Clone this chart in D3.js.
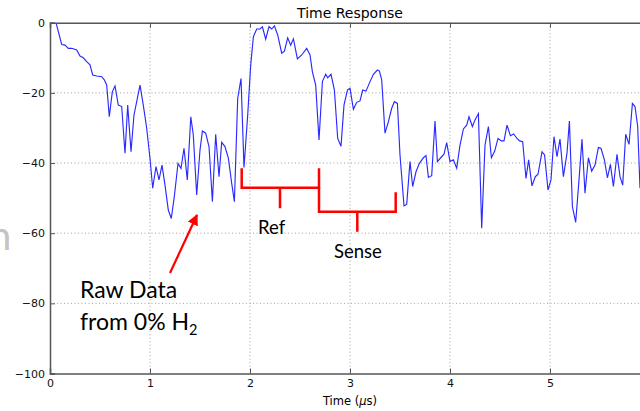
<!DOCTYPE html>
<html>
<head>
<meta charset="utf-8">
<script src="https://cdnjs.cloudflare.com/ajax/libs/d3/7.8.5/d3.min.js"></script>
<style>
  body { margin: 0; background: #fff; }
  svg { display: block; }
  .tick text { font-family: "DejaVu Sans", sans-serif; font-size: 11px; fill: #111; }
  .note { font-family: Lato, "Open Sans", sans-serif; fill: #000; }
</style>
</head>
<body>
<svg width="640" height="411"></svg>
<script>
// time (us) and response
var time = [0.06, 0.117, 0.15, 0.183, 0.217, 0.267, 0.30, 0.333, 0.367, 0.40,
  0.427, 0.467, 0.517, 0.543, 0.567, 0.593, 0.623, 0.65, 0.683, 0.717,
  0.75, 0.777, 0.81, 0.84, 0.867, 0.90, 0.933, 0.967, 1.0, 1.027,
  1.06, 1.09, 1.12, 1.15, 1.183, 1.213, 1.243, 1.28, 1.31, 1.34,
  1.373, 1.408, 1.433, 1.467, 1.50, 1.524, 1.557, 1.59, 1.624, 1.657,
  1.69, 1.717, 1.75, 1.784, 1.817, 1.844, 1.877, 1.91, 1.94, 1.977,
  2.007, 2.034, 2.067, 2.10, 2.124, 2.157, 2.19, 2.217, 2.244, 2.277,
  2.317, 2.344, 2.377, 2.407, 2.434, 2.474, 2.517, 2.567, 2.60, 2.624,
  2.657, 2.69, 2.724, 2.757, 2.777, 2.81, 2.844, 2.877, 2.91, 2.94,
  2.974, 3.0, 3.034, 3.067, 3.10, 3.127, 3.16, 3.20, 3.234, 3.274,
  3.294, 3.317, 3.35, 3.384, 3.417, 3.444, 3.474, 3.50, 3.54, 3.567,
  3.60, 3.627, 3.66, 3.694, 3.734, 3.76, 3.784, 3.817, 3.85, 3.874,
  3.907, 3.94, 3.967, 4.0, 4.034, 4.067, 4.10, 4.134, 4.167, 4.19,
  4.224, 4.25, 4.284, 4.317, 4.35, 4.384, 4.414, 4.447, 4.48, 4.514,
  4.54, 4.57, 4.604, 4.637, 4.67, 4.697, 4.727, 4.76, 4.786, 4.82,
  4.853, 4.88, 4.92, 4.946, 4.98, 5.01, 5.04, 5.07, 5.10, 5.134,
  5.17, 5.194, 5.224, 5.257, 5.29, 5.32, 5.35, 5.384, 5.417, 5.45,
  5.484, 5.51, 5.544, 5.574, 5.604, 5.634, 5.67, 5.70, 5.727, 5.757,
  5.79, 5.824, 5.85, 5.877, 5.90];

var response = [0, -6.2, -6.4, -7.3, -7.3, -7.8, -9.5, -10, -11.1, -12,
  -14.9, -15.2, -15.4, -16.3, -17.8, -26.8, -19.7, -18, -23.5, -23.9,
  -37.2, -23.5, -36.8, -26.3, -22.5, -17.8, -23.5, -30.1, -38.7, -47.2,
  -41, -44.8, -40.6, -46.3, -53.4, -55.8, -49.6, -40.1, -41.5, -35.8,
  -44.8, -26.8, -32, -49.1, -36.3, -30.9, -31.5, -35.3, -51.0, -31.8,
  -43.9, -34.1, -35.3, -38.7, -45.8, -51.0, -21.6, -15.9, -41.3, -26.3,
  -12.1, -4.0, -1.8, -1.8, -1.2, -4.7, -1.1, -1.8, -0.9, -3.5,
  -8.7, -8.1, -4.3, -6.4, -4.6, -10.3, -9.2, -7.3, -9.2, -14,
  -17.8, -33.4, -16.8, -14.7, -15.7, -14.7, -19.2, -33, -35.2, -23.5,
  -19.2, -18.7, -24.7, -22.7, -22.3, -19.2, -19.5, -16.8, -14.7, -13.5,
  -13.8, -16.3, -31.5, -28.2, -24.4, -22.5, -23, -37.7, -52.2, -51.8,
  -39.6, -46.7, -42.5, -40.1, -38.5, -37.9, -44.1, -43.6, -28, -39.6,
  -38.5, -37.5, -34.2, -39.6, -39.1, -41.5, -34.9, -30.3, -29.2, -26.8,
  -29.6, -27.7, -25.9, -58.6, -34.9, -29.6, -38.5, -36.6, -33, -33.7,
  -33.7, -29.2, -32.2, -31.7, -33, -33.7, -33.9, -44.4, -39.1, -46.5,
  -43.9, -43.2, -36.8, -37.7, -47.7, -44.8, -32.5, -38.2, -33.2, -43.9,
  -37.2, -28, -52.4, -56.9, -44.8, -33.2, -48.6, -38.5, -42.3, -40.6,
  -35.6, -35.8, -39.1, -44.2, -40.4, -46.7, -37.5, -43.9, -46.3, -31.8,
  -34.7, -23, -23.9, -29.6, -47.2];

var xTicks = [0, 1, 2, 3, 4, 5];
var yTicks = [0, -20, -40, -60, -80, -100];

// note: "top" is taken by window.top, so use other names
var svg = d3.select("svg"),
    pLeft = 50, pRight = 650, pTop = 22.7, pBottom = 373.5;

var x = d3.scaleLinear().domain([0, 6]).range([pLeft, pRight]);
var y = d3.scaleLinear().domain([-100, 0]).range([pBottom, pTop]);

var fmt = function (d) { return d < 0 ? "\u2212" + Math.abs(d) : d; };

// dotted grid
var grid = svg.append("g");
grid.selectAll(".gx").data(xTicks.slice(1)).enter().append("line")
    .attr("x1", x).attr("x2", x).attr("y1", pTop).attr("y2", pBottom)
    .attr("stroke", "#888").attr("stroke-width", 0.8).attr("stroke-dasharray", "1,2.5");
grid.selectAll(".gy").data(yTicks.slice(1, -1)).enter().append("line")
    .attr("x1", pLeft).attr("x2", pRight).attr("y1", y).attr("y2", y)
    .attr("stroke", "#888").attr("stroke-width", 0.8).attr("stroke-dasharray", "1,2.5");

// data line
svg.append("clipPath").attr("id", "plot")
   .append("rect").attr("x", pLeft).attr("y", pTop).attr("width", pRight - pLeft).attr("height", pBottom - pTop);

var line = d3.line()
    .x(function (d, i) { return x(time[i]); })
    .y(function (d) { return y(d); });

svg.append("path")
   .datum(response)
   .attr("clip-path", "url(#plot)")
   .attr("fill", "none")
   .attr("stroke", "#2a2aff")
   .attr("stroke-width", 1.15)
   .attr("d", line);

// axes, ticks inside like matplotlib
var xAxis = svg.append("g").attr("transform", "translate(0," + pBottom + ")")
    .call(d3.axisBottom(x).tickValues(xTicks).tickSize(-5).tickPadding(6).tickFormat(fmt));
var xTop = svg.append("g").attr("transform", "translate(0," + pTop + ")")
    .call(d3.axisTop(x).tickValues(xTicks).tickSize(-5).tickFormat(""));
var yAxis = svg.append("g").attr("transform", "translate(" + pLeft + ",0)")
    .call(d3.axisLeft(y).tickValues(yTicks).tickSize(-5).tickPadding(5).tickFormat(fmt));

[xAxis, xTop, yAxis].forEach(function (a) {
    a.select(".domain").attr("stroke", "#555").attr("stroke-width", 1.5);
    a.selectAll(".tick line").attr("stroke", "#555");
});

svg.append("text")
   .attr("x", 350).attr("y", 18)
   .attr("text-anchor", "middle")
   .style("font-family", "DejaVu Sans").style("font-size", "14px")
   .text("Time Response");

svg.append("text")
   .attr("x", 350).attr("y", 405)
   .attr("text-anchor", "middle")
   .style("font-family", "DejaVu Sans").style("font-size", "11.5px")
   .html("Time (<tspan font-style='italic'>\u03bc</tspan>s)");

// annotations
var red = "#ff0000";
svg.append("defs").append("marker")
   .attr("id", "head").attr("viewBox", "0 0 10 10")
   .attr("refX", 9).attr("refY", 5)
   .attr("markerWidth", 5).attr("markerHeight", 5)
   .attr("orient", "auto")
   .append("path").attr("d", "M0,0 L10,5 L0,10 z").attr("fill", red);

svg.append("line")
   .attr("x1", 170).attr("y1", 273).attr("x2", 197).attr("y2", 215)
   .attr("stroke", red).attr("stroke-width", 2.2)
   .attr("marker-end", "url(#head)");

svg.append("path")
   .attr("d", "M241.7,168.3 V187.7 H319 V168.3 M280,187.7 V208.3")
   .attr("fill", "none").attr("stroke", red).attr("stroke-width", 2.5);
svg.append("path")
   .attr("d", "M319,187.7 V211.7 H395.7 V192.3 M357.3,211.7 V231.7")
   .attr("fill", "none").attr("stroke", red).attr("stroke-width", 2.5);

svg.append("text").attr("class", "note")
   .attr("x", 258).attr("y", 234).style("font-size", "18.5px").text("Ref");
svg.append("text").attr("class", "note")
   .attr("x", 334).attr("y", 258).style("font-size", "18.5px").text("Sense");

svg.append("text").attr("class", "note")
   .attr("x", 80).attr("y", 298).style("font-size", "23px").text("Raw Data");
svg.append("text").attr("class", "note")
   .attr("x", 80).attr("y", 330).style("font-size", "23px")
   .html("from 0% H<tspan dy='5' font-size='14.5px'>2</tspan>");

// stray letter from the slide behind
svg.append("text").attr("class", "note")
   .attr("x", -11).attr("y", 250).style("font-size", "40px").style("fill", "#c4c4c4").text("n");
</script>
</body>
</html>
